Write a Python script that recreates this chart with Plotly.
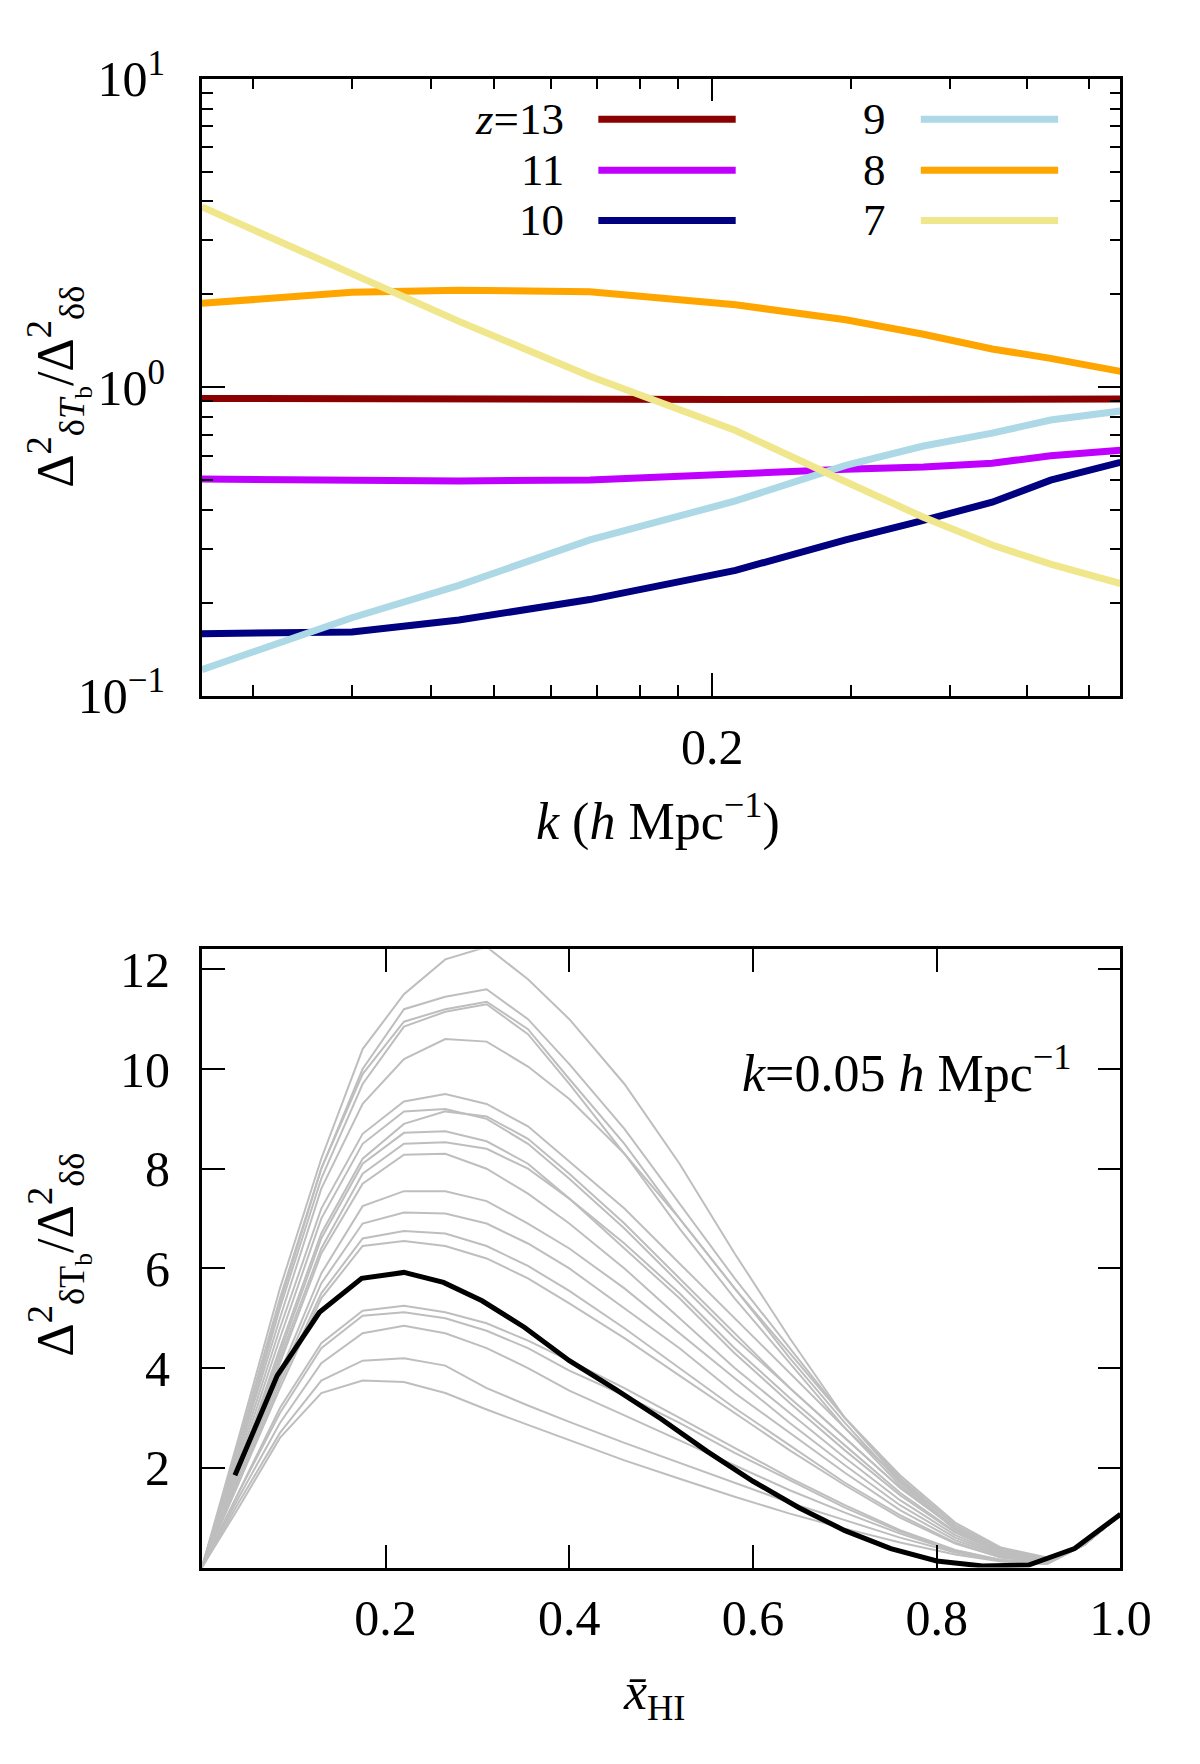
import math
import plotly.graph_objs as go

# ---------------- top panel: ratio vs k, one line per redshift ----------------
k = [0.0452, 0.070, 0.0956, 0.140, 0.214, 0.295, 0.370, 0.452, 0.536, 0.657]

ratio_z13 = [0.92, 0.915, 0.913, 0.913, 0.913, 0.913, 0.912, 0.912, 0.913, 0.915]
ratio_z11 = [0.504, 0.497, 0.497, 0.50, 0.525, 0.542, 0.551, 0.567, 0.60, 0.625]
ratio_z10 = [0.159, 0.161, 0.176, 0.205, 0.255, 0.32, 0.37, 0.424, 0.50, 0.571]
ratio_z9 = [0.1216, 0.179, 0.228, 0.32, 0.428, 0.558, 0.645, 0.71, 0.783, 0.837]
ratio_z8 = [1.87, 2.03, 2.06, 2.04, 1.85, 1.655, 1.485, 1.33, 1.24, 1.125]
ratio_z7 = [3.84, 2.35, 1.635, 1.085, 0.724, 0.494, 0.379, 0.308, 0.267, 0.231]

z_labels = ['<i>z</i>=13', '11', '10', '9', '8', '7']
z_colors = ['#8b0000', '#c000ff', '#000080', '#add8e6', '#ffa500', '#f0e68c']

k_minor = [0.0525, 0.070, 0.088, 0.106, 0.125, 0.143, 0.162, 0.181, 0.3, 0.4, 0.5, 0.6]
y_minor = [0.2, 0.3, 0.4, 0.5, 0.6, 0.7, 0.8, 0.9, 2, 3, 4, 5, 6, 7, 8, 9]

# ---------------- bottom panel: ratio vs neutral fraction ----------------
xhi = [0.0, 0.04, 0.085, 0.13, 0.175, 0.22, 0.265, 0.31, 0.355, 0.40, 0.46,
       0.52, 0.58, 0.64, 0.70, 0.76, 0.82, 0.87, 0.92, 0.96, 1.0]

model_01 = [0, 2.6, 5.6, 8.2, 10.4, 11.5, 12.2, 12.45, 11.8, 11.0, 9.7, 8.1, 6.3, 4.6, 3.0, 1.75, 0.75, 0.3, 0.18, 0.45, 1.06]
model_02 = [0, 2.4, 5.3, 8.0, 10.0, 11.2, 11.45, 11.6, 11.0, 10.1, 8.8, 7.3, 5.8, 4.4, 3.0, 1.8, 0.85, 0.35, 0.17, 0.45, 1.06]
model_03 = [0, 2.5, 5.4, 8.0, 9.9, 10.95, 11.2, 11.35, 10.8, 9.8, 8.5, 7.0, 5.6, 4.2, 2.9, 1.7, 0.8, 0.33, 0.16, 0.45, 1.06]
model_04 = [0, 2.3, 5.2, 7.8, 9.7, 10.85, 11.15, 11.3, 10.7, 9.7, 8.3, 6.8, 5.4, 4.1, 2.8, 1.65, 0.78, 0.32, 0.16, 0.45, 1.06]
model_05 = [0, 2.3, 5.0, 7.6, 9.3, 10.2, 10.6, 10.55, 10.05, 9.4, 8.3, 7.0, 5.6, 4.3, 3.0, 1.85, 0.9, 0.4, 0.2, 0.45, 1.06]
model_06 = [0, 2.2, 4.8, 7.2, 8.7, 9.35, 9.5, 9.3, 8.85, 8.15, 7.2, 6.1, 5.0, 3.9, 2.8, 1.75, 0.85, 0.38, 0.18, 0.45, 1.06]
model_07 = [0, 2.1, 4.6, 7.0, 8.5, 9.15, 9.2, 9.0, 8.5, 7.8, 6.8, 5.7, 4.6, 3.6, 2.6, 1.6, 0.78, 0.34, 0.16, 0.45, 1.06]
model_08 = [0, 2.0, 4.4, 6.7, 8.2, 8.9, 9.15, 9.05, 8.6, 7.9, 6.9, 5.8, 4.7, 3.6, 2.6, 1.6, 0.8, 0.35, 0.17, 0.45, 1.06]
model_09 = [0, 2.0, 4.3, 6.6, 8.1, 8.72, 8.75, 8.55, 8.1, 7.4, 6.5, 5.5, 4.4, 3.4, 2.45, 1.5, 0.72, 0.3, 0.14, 0.45, 1.06]
model_10 = [0, 1.9, 4.2, 6.4, 7.9, 8.5, 8.53, 8.4, 8.0, 7.4, 6.4, 5.4, 4.3, 3.3, 2.35, 1.45, 0.7, 0.3, 0.14, 0.45, 1.06]
model_11 = [0, 1.9, 4.1, 6.3, 7.7, 8.28, 8.3, 8.0, 7.5, 6.9, 6.0, 5.0, 4.0, 3.1, 2.2, 1.35, 0.65, 0.27, 0.13, 0.45, 1.06]
model_12 = [0, 1.8, 3.9, 5.9, 7.25, 7.55, 7.55, 7.35, 6.9, 6.4, 5.6, 4.7, 3.8, 2.9, 2.05, 1.25, 0.6, 0.25, 0.12, 0.45, 1.06]
model_13 = [0, 1.8, 3.8, 5.7, 6.9, 7.12, 7.1, 6.9, 6.5, 6.0, 5.2, 4.4, 3.5, 2.7, 1.9, 1.15, 0.55, 0.23, 0.11, 0.45, 1.06]
model_14 = [0, 1.7, 3.7, 5.5, 6.6, 6.75, 6.7, 6.45, 6.05, 5.55, 4.8, 4.0, 3.2, 2.45, 1.7, 1.05, 0.5, 0.2, 0.1, 0.45, 1.06]
model_15 = [0, 1.7, 3.6, 5.4, 6.45, 6.55, 6.45, 6.2, 5.8, 5.3, 4.6, 3.85, 3.1, 2.35, 1.65, 1.0, 0.48, 0.2, 0.1, 0.45, 1.06]
model_16 = [0, 1.5, 3.2, 4.5, 5.15, 5.25, 5.12, 4.9, 4.55, 4.15, 3.6, 3.0, 2.4, 1.8, 1.25, 0.75, 0.35, 0.15, 0.08, 0.45, 1.06]
model_17 = [0, 1.5, 3.1, 4.4, 5.05, 5.12, 5.0, 4.75, 4.4, 3.95, 3.45, 2.9, 2.3, 1.75, 1.2, 0.72, 0.34, 0.15, 0.08, 0.45, 1.06]
model_18 = [0, 1.4, 2.9, 4.1, 4.7, 4.85, 4.7, 4.4, 4.0, 3.55, 3.05, 2.55, 2.05, 1.55, 1.1, 0.68, 0.32, 0.14, 0.08, 0.45, 1.06]
model_19 = [0, 1.3, 2.7, 3.75, 4.15, 4.2, 4.05, 3.6, 3.25, 2.92, 2.5, 2.1, 1.7, 1.3, 0.95, 0.6, 0.3, 0.13, 0.07, 0.45, 1.06]
model_20 = [0, 1.2, 2.6, 3.5, 3.75, 3.72, 3.5, 3.17, 2.86, 2.56, 2.15, 1.78, 1.42, 1.08, 0.78, 0.5, 0.26, 0.12, 0.07, 0.45, 1.06]

models = [model_01, model_02, model_03, model_04, model_05, model_06, model_07,
          model_08, model_09, model_10, model_11, model_12, model_13, model_14,
          model_15, model_16, model_17, model_18, model_19, model_20]

fid_xhi = [0.036, 0.082, 0.128, 0.174, 0.22, 0.263, 0.305, 0.351, 0.40, 0.45, 0.50,
           0.55, 0.60, 0.65, 0.70, 0.75, 0.80, 0.85, 0.90, 0.95, 1.0]
fid_ratio = [1.85, 3.85, 5.12, 5.8, 5.92, 5.72, 5.35, 4.82, 4.15, 3.58, 2.98,
             2.33, 1.73, 1.2, 0.74, 0.38, 0.13, 0.03, 0.05, 0.38, 1.07]

W, H = 1200, 1764
FONT = 'Liberation Serif'
FS_TICK = 50
FS = 52
FS_KEY = 45


def px(x):
    return x / W


def py(y):
    return 1 - y / H


data = []

top_series = [ratio_z13, ratio_z11, ratio_z10, ratio_z9, ratio_z8, ratio_z7]
for vals, c in zip(top_series, z_colors):
    data.append(go.Scatter(x=k, y=vals, mode='lines', xaxis='x', yaxis='y',
                           line=dict(color=c, width=7), showlegend=False))

for m in models:
    data.append(go.Scatter(x=xhi, y=m, mode='lines', xaxis='x2', yaxis='y2',
                           line=dict(color='#bebebe', width=2), showlegend=False))

data.append(go.Scatter(x=fid_xhi, y=fid_ratio, mode='lines', xaxis='x2', yaxis='y2',
                       line=dict(color='black', width=5), showlegend=False))

axis_common = dict(showline=True, linecolor='black', linewidth=2.5, mirror='ticks',
                   ticks='inside', ticklen=23, tickwidth=1.5, tickcolor='black',
                   showgrid=False, zeroline=False,
                   tickfont=dict(family=FONT, size=FS_TICK, color='black'))

x_dom = [px(199), px(1142)]

layout = go.Layout(
    width=W, height=H,
    margin=dict(l=0, r=0, t=0, b=0),
    paper_bgcolor='white', plot_bgcolor='white',
    font=dict(family=FONT, size=FS, color='black'),
    xaxis=dict(axis_common, domain=x_dom, anchor='y', type='log',
               range=[math.log10(0.0452), math.log10(0.657)],
               tickmode='array', tickvals=[0.2], ticktext=['0.2'],
               ticklabelstandoff=5,
               minor=dict(tickmode='array', tickvals=k_minor, ticks='inside',
                          ticklen=11, tickwidth=1.5, tickcolor='black')),
    yaxis=dict(axis_common, domain=[py(678), py(38)], anchor='x', type='log',
               range=[-1, 1], tickmode='array', tickvals=[0.1, 1, 10],
               ticktext=['10<sup>\u22121</sup>', '10<sup>0</sup>', '10<sup>1</sup>'],
               ticklabelstandoff=24,
               minor=dict(tickmode='array', tickvals=y_minor, ticks='inside',
                          ticklen=11, tickwidth=1.5, tickcolor='black')),
    xaxis2=dict(axis_common, domain=x_dom, anchor='y2', range=[0, 1],
                tickmode='array', tickvals=[0.2, 0.4, 0.6, 0.8, 1.0],
                ticktext=['0.2', '0.4', '0.6', '0.8', '1.0'], ticklabelstandoff=5),
    yaxis2=dict(axis_common, domain=[py(1582), py(941)], anchor='x2', range=[0, 12.4],
                tickmode='array', tickvals=[2, 4, 6, 8, 10, 12],
                ticktext=['2', '4', '6', '8', '10', '12'], ticklabelstandoff=19),
)

ytitle_top = '\u0394<sup>2</sup><sub>\u03b4<i>T</i><sub>b</sub></sub>/\u0394<sup>2</sup><sub>\u03b4\u03b4</sub>'
ytitle_bot = '\u0394<sup>2</sup><sub>\u03b4T<sub>b</sub></sub>/\u0394<sup>2</sup><sub>\u03b4\u03b4</sub>'

annotations = [
    dict(text=ytitle_top, x=px(52), y=py(358), textangle=-90),
    dict(text=ytitle_bot, x=px(52), y=py(1258), textangle=-90),
    dict(text='<i>k</i> (<i>h</i> Mpc<sup>\u22121</sup>)', x=px(667), y=py(805)),
    dict(text='<i>x\u0304</i><sub>HI</sub>', x=px(664), y=py(1715)),
    dict(text='<i>k</i>=0.05 <i>h</i> Mpc<sup>\u22121</sup>', x=0.948, y=10.0,
         xref='x2', yref='y2', xanchor='right'),
]
for a in annotations:
    a['font'] = dict(family=FONT, size=FS, color='black')

# legend drawn gnuplot-style: label first, line sample after it
shapes = []
rows = [80, 133, 185]
for i, (lab, c) in enumerate(zip(z_labels, z_colors)):
    col = i // 3
    yrow = rows[i % 3]
    text_right = [573, 903][col]
    x0, x1 = [(606, 747), (937, 1078)][col]
    annotations.append(dict(text=lab, x=px(text_right), y=py(yrow), xanchor='right',
                            font=dict(family=FONT, size=FS_KEY, color='black')))
    shapes.append(dict(type='line', xref='paper', yref='paper',
                       x0=px(x0), x1=px(x1), y0=py(yrow), y1=py(yrow),
                       line=dict(color=c, width=7)))

for a in annotations:
    a.setdefault('xref', 'paper')
    a.setdefault('yref', 'paper')
    a.setdefault('xanchor', 'center')
    a['yanchor'] = 'middle'
    a['showarrow'] = False

layout.update(annotations=annotations, shapes=shapes)

fig = go.Figure(data=data, layout=layout)
fig.write_html('out.html')
